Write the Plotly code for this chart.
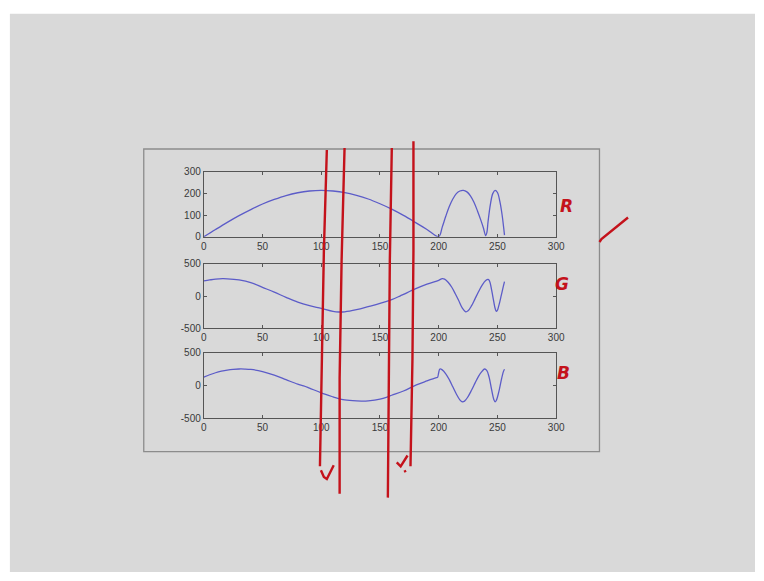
import plotly.graph_objects as go

W, H = 764, 581

# ---------------- data ----------------
r_x = [0, 10, 20, 30, 40, 50, 60, 70, 80, 90, 100, 110, 120, 130, 140, 150, 160, 170, 180, 190, 200,
       203, 206, 209, 212, 215, 218, 221, 224, 227, 230, 233, 236, 238, 240,
       241, 242, 244, 246, 248, 250, 252, 254, 256]
r_y = [0, 34, 67, 98, 126, 152, 173, 191, 204, 212, 215, 212, 205, 192, 175, 153, 128, 99, 67, 34, 1,
       45, 95, 140, 175, 200, 212, 215, 208, 190, 160, 120, 75, 42, 5,
       20, 70, 150, 200, 215, 205, 165, 100, 8]

g_x = [0, 5, 10, 16, 20, 30, 40, 50, 60, 70, 80, 90, 100, 110, 115, 120, 130, 140, 150, 160, 167, 170,
       180, 190, 200, 203, 205, 208, 211, 214, 217, 220, 223, 225, 228, 231, 234, 237, 240, 242,
       243, 244, 245, 246, 247, 248, 249, 250, 251, 252, 253, 254, 255, 256]
g_y = [235, 250, 263, 270, 268, 250, 210, 135, 60, -20, -95, -150, -192, -238, -248, -245, -212, -165,
       -115, -55, 0, 25, 110, 185, 245, 270, 262, 215, 140, 40, -70, -185, -245, -230, -150, -40, 70,
       170, 240, 260, 245, 190, 100, 0, -100, -190, -240, -220, -160, -90, -10, 70, 150, 225]

b_x = [0, 5, 10, 15, 20, 25, 30, 35, 40, 50, 60, 70, 80, 85, 90, 100, 110, 114, 120, 130, 135, 140,
       150, 156, 160, 170, 181, 190, 198, 199, 200, 201, 203, 206, 209, 212, 215, 218, 220, 222, 225,
       228, 231, 234, 237, 239, 241, 243, 245, 247, 248, 249, 251, 253, 255, 256]
b_y = [128, 165, 196, 220, 238, 249, 254, 253, 247, 215, 160, 90, 20, -5, -40, -113, -175, -198, -222,
       -238, -240, -236, -210, -178, -150, -85, 10, 70, 120, 125, 200, 254, 240, 180, 90, -20, -130,
       -220, -250, -240, -170, -70, 40, 145, 220, 254, 230, 120, -60, -220, -250, -230, -110, 60, 210, 250]

x_ticks = [0, 50, 100, 150, 200, 250, 300]
r_ticks = [0, 100, 200, 300]
gb_ticks = [-500, 0, 500]

channel_labels = ["R", "G", "B"]

# hand-drawn red strokes (pixel positions of the lecture annotation)
strokes = [
    [(329, 147), (326, 250), (324, 360), (322, 470)],
    [(347, 145), (344, 260), (342, 380), (342, 498)],
    [(395, 145), (393, 260), (392, 380), (391, 502)],
    [(417, 138), (417, 250), (416, 360), (414, 470)],
    [(323, 474), (326, 481), (329, 483), (336, 469)],
    [(400, 466), (404, 470), (411, 459)],
    [(408, 474), (409, 476)],
    [(606, 241), (608, 238), (635, 216)],
]
label_pos = [(581, 192), (577, 284), (578, 375)]

# ---------------- figure ----------------
def px(x):
    return x / W


def py(y):
    return 1 - y / H


line_col = "#5c5cc8"
axis_col = "#555555"
font = dict(family="Liberation Sans, Arial, sans-serif", size=10, color="#3a3a3a")

fig = go.Figure()
series = [(r_x, r_y), (g_x, g_y), (b_x, b_y)]
for i, (xs, ys) in enumerate(series):
    sfx = "" if i == 0 else str(i + 1)
    fig.add_trace(go.Scatter(x=xs, y=ys, mode="lines", line=dict(color=line_col, width=1.3),
                             xaxis="x" + sfx, yaxis="y" + sfx, showlegend=False,
                             line_shape="spline", hoverinfo="skip"))

x_dom = [px(204), px(562)]
y_doms = [[py(235.7), py(169.5)], [py(329), py(263.3)], [py(420.7), py(354.3)]]
y_ranges = [[0, 300], [-500, 500], [-500, 500]]
y_tick_sets = [r_ticks, gb_ticks, gb_ticks]

common = dict(showline=True, linecolor=axis_col, linewidth=1, mirror="ticks", ticks="inside",
              ticklen=3, tickcolor=axis_col, showgrid=False, zeroline=False, tickfont=font)

layout = dict(width=W, height=H, margin=dict(l=0, r=0, t=0, b=0, pad=0), autosize=False,
              paper_bgcolor="white", plot_bgcolor="#d9d9d9", showlegend=False)
for i in range(3):
    sfx = "" if i == 0 else str(i + 1)
    layout["xaxis" + sfx] = dict(domain=x_dom, range=[0, 300], tickvals=x_ticks,
                                 ticktext=[str(v) for v in x_ticks],
                                 anchor="y" + sfx, **common)
    layout["yaxis" + sfx] = dict(domain=y_doms[i], range=y_ranges[i], tickvals=y_tick_sets[i],
                                 ticktext=[str(v) for v in y_tick_sets[i]],
                                 anchor="x" + sfx, **common)
fig.update_layout(**layout)

shapes = [
    # gray screen background
    dict(type="rect", xref="paper", yref="paper", x0=px(7), x1=1, y0=py(578), y1=py(8),
         fillcolor="#d9d9d9", line=dict(width=0), layer="below"),
    # figure frame
    dict(type="rect", xref="paper", yref="paper", x0=px(143), x1=px(606), y0=py(455), y1=py(146),
         line=dict(color="#8c8c8c", width=1.3), layer="below"),
]
for s in strokes:
    path = "M " + " L ".join(f"{px(x):.5f},{py(y):.5f}" for x, y in s)
    shapes.append(dict(type="path", xref="paper", yref="paper", path=path,
                       line=dict(color="#c4121b", width=2.4), layer="above"))
fig.update_layout(shapes=shapes)

for lab, (x, y) in zip(channel_labels, label_pos):
    fig.add_annotation(x=px(x), y=py(y), xref="paper", yref="paper", text=f"<b><i>{lab}</i></b>",
                       showarrow=False, font=dict(family="DejaVu Sans, sans-serif", size=17,
                                                  color="#c4121b"))

post = (
    "document.body.style.margin='0';document.body.style.padding='0';"
    "document.body.style.overflow='hidden';document.documentElement.style.overflow='hidden';"
)
fig.write_html("out.html", config={"displayModeBar": False, "staticPlot": True}, post_script=post)
